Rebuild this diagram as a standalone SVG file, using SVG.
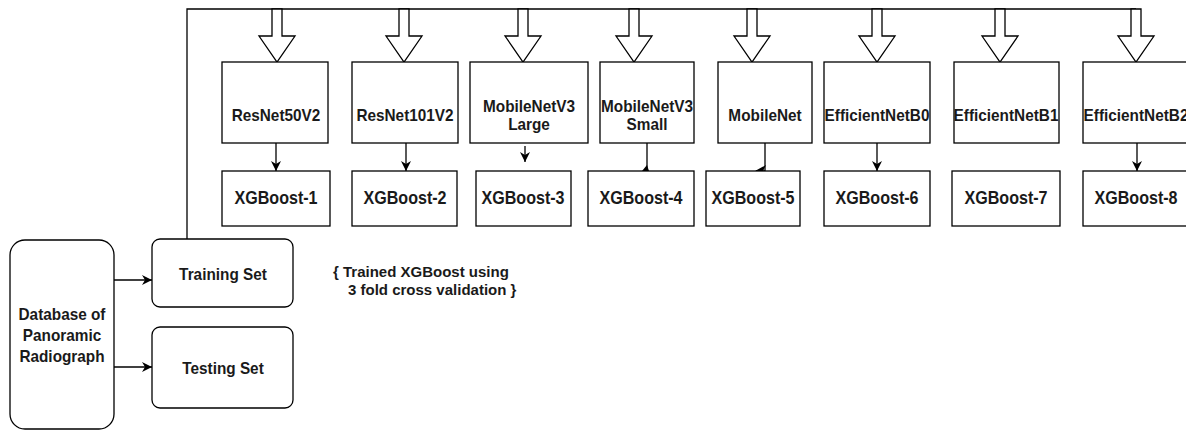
<svg xmlns="http://www.w3.org/2000/svg" width="1186" height="430" viewBox="0 0 1186 430">
<defs>
<style>
.box{fill:#fff;stroke:#000;stroke-width:1.3}
.rbox{fill:#fff;stroke:#000;stroke-width:1.3}
.big{fill:#fff;stroke:#000;stroke-width:1.3;stroke-linejoin:miter}
.ln{fill:none;stroke:#000;stroke-width:1.3}
text{font-family:"Liberation Sans",Arial,sans-serif;font-weight:bold;fill:#1a1a1a;text-anchor:middle}
.m{font-size:16.5px}
.x{font-size:17.5px}
.note{font-size:15px;text-anchor:start}
</style>
<marker id="ah" viewBox="0 0 10 10" refX="10" refY="5" markerWidth="10" markerHeight="10" markerUnits="userSpaceOnUse" orient="auto">
<path d="M0,0 L10,5 L0,10 L3,5 Z" fill="#000"/>
</marker>
</defs>

<g id="connectors">
<path class="ln" d="M187,239 V9 H1136"/>
<polygon class="big" points="272,9 272,36 259,36 277,62 295,36 282,36 282,9"/>
<polygon class="big" points="399,9 399,36 386,36 404,62 422,36 409,36 409,9"/>
<polygon class="big" points="518,9 518,36 505,36 523,62 541,36 528,36 528,9"/>
<polygon class="big" points="629,9 629,36 616,36 634,62 652,36 639,36 639,9"/>
<polygon class="big" points="747,9 747,36 734,36 752,62 770,36 757,36 757,9"/>
<polygon class="big" points="872,9 872,36 859,36 877,62 895,36 882,36 882,9"/>
<polygon class="big" points="995,9 995,36 982,36 1000,62 1018,36 1005,36 1005,9"/>
<polygon class="big" points="1131,9 1131,36 1118,36 1136,62 1154,36 1141,36 1141,9"/>
<path class="ln" d="M276,143 V171" marker-end="url(#ah)"/>
<path class="ln" d="M406,143 V171" marker-end="url(#ah)"/>
<path class="ln" d="M525,146 V162" marker-end="url(#ah)"/>
<path class="ln" d="M647,143 V171"/>
<path d="M642,171 L647,165 L649,171 Z" fill="#000"/>
<path class="ln" d="M765,143 V171 H756"/>
<path d="M755,171 L766,165 L763,171 L766,176 Z" fill="#000"/>
<path class="ln" d="M877,143 V171" marker-end="url(#ah)"/>
<path class="ln" d="M1137,143 V171" marker-end="url(#ah)"/>
<path class="ln" d="M114,280 H152" marker-end="url(#ah)"/>
<path class="ln" d="M114,367 H152" marker-end="url(#ah)"/>
</g>

<g id="resnet50v2"><rect class="box" x="222" y="62" width="106" height="81"/><text class="m" transform="translate(276,121) scale(0.93,1)">ResNet50V2</text></g>
<g id="resnet101v2"><rect class="box" x="352" y="62" width="106" height="81"/><text class="m" transform="translate(405,121) scale(0.93,1)">ResNet101V2</text></g>
<g id="mobilenetv3large"><rect class="box" x="470" y="62" width="118" height="81"/><text class="m" transform="translate(529,112) scale(0.93,1)">MobileNetV3</text><text class="m" transform="translate(529,130) scale(0.93,1)">Large</text></g>
<g id="mobilenetv3small"><rect class="box" x="600" y="62" width="94" height="81"/><text class="m" transform="translate(647,112) scale(0.93,1)">MobileNetV3</text><text class="m" transform="translate(647,130) scale(0.93,1)">Small</text></g>
<g id="mobilenet"><rect class="box" x="718" y="62" width="94" height="81"/><text class="m" transform="translate(765,121) scale(0.93,1)">MobileNet</text></g>
<g id="efficientnetb0"><rect class="box" x="824" y="62" width="106" height="81"/><text class="m" transform="translate(877,121) scale(0.93,1)">EfficientNetB0</text></g>
<g id="efficientnetb1"><rect class="box" x="954" y="62" width="105" height="81"/><text class="m" transform="translate(1006,121) scale(0.93,1)">EfficientNetB1</text></g>
<g id="efficientnetb2"><rect class="box" x="1083" y="62" width="110" height="81"/><text class="m" transform="translate(1136,121) scale(0.93,1)">EfficientNetB2</text></g>

<g id="xgb1"><rect class="box" x="222" y="171" width="108" height="55"/><text class="x" transform="translate(276,204) scale(0.92,1)">XGBoost-1</text></g>
<g id="xgb2"><rect class="box" x="352" y="171" width="105" height="55"/><text class="x" transform="translate(405,204) scale(0.92,1)">XGBoost-2</text></g>
<g id="xgb3"><rect class="box" x="476" y="171" width="95" height="55"/><text class="x" transform="translate(523,204) scale(0.92,1)">XGBoost-3</text></g>
<g id="xgb4"><rect class="box" x="588" y="171" width="106" height="55"/><text class="x" transform="translate(641,204) scale(0.92,1)">XGBoost-4</text></g>
<g id="xgb5"><rect class="box" x="706" y="171" width="94" height="55"/><text class="x" transform="translate(753,204) scale(0.92,1)">XGBoost-5</text></g>
<g id="xgb6"><rect class="box" x="824" y="171" width="106" height="55"/><text class="x" transform="translate(877,204) scale(0.92,1)">XGBoost-6</text></g>
<g id="xgb7"><rect class="box" x="952" y="171" width="108" height="55"/><text class="x" transform="translate(1006,204) scale(0.92,1)">XGBoost-7</text></g>
<g id="xgb8"><rect class="box" x="1083" y="171" width="110" height="55"/><text class="x" transform="translate(1136,204) scale(0.92,1)">XGBoost-8</text></g>

<g id="database"><rect class="rbox" x="10" y="240" width="104" height="189" rx="15"/><text class="m" transform="translate(62,320) scale(0.93,1)">Database of</text><text class="m" transform="translate(62,341) scale(0.93,1)">Panoramic</text><text class="m" transform="translate(62,362) scale(0.93,1)">Radiograph</text></g>
<g id="training"><rect class="rbox" x="152" y="239" width="141" height="68" rx="8"/><text class="m" transform="translate(223,280) scale(0.93,1)">Training Set</text></g>
<g id="testing"><rect class="rbox" x="152" y="327" width="141" height="81" rx="8"/><text class="m" transform="translate(223,374) scale(0.93,1)">Testing Set</text></g>

<g id="note"><text class="note" x="333" y="277">{ Trained XGBoost using</text><text class="note" x="348" y="295">3 fold cross validation }</text></g>
</svg>
